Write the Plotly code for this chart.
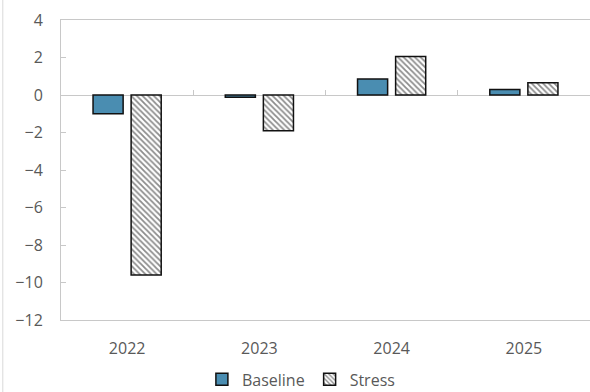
import plotly.graph_objects as go

years = ["2022", "2023", "2024", "2025"]
baseline = [-1.0, -0.12, 0.85, 0.3]
stress = [-9.6, -1.9, 2.05, 0.65]
y_ticks = [-12, -10, -8, -6, -4, -2, 0, 2, 4]

axis_grey = "#c8c8c8"
text_grey = "#595959"
font_family = "Open Sans, Noto Sans, sans-serif"

fig = go.Figure()
fig.add_trace(go.Bar(
    x=years, y=baseline, name="Baseline",
    marker=dict(color="#4a8db1", line=dict(color="#111111", width=1.5)),
))
fig.add_trace(go.Bar(
    x=years, y=stress, name="Stress",
    marker=dict(color="white", line=dict(color="#111111", width=1.5),
                pattern=dict(shape="\\", fgcolor="#1a1a1a", bgcolor="white",
                             size=4, solidity=0.45)),
))
# invisible trace to hold the overlay axis used for the zero-line tick marks
fig.add_trace(go.Scatter(x=[0], y=[0], xaxis="x2", mode="markers",
                         marker=dict(opacity=0), showlegend=False, hoverinfo="skip"))

fig.update_layout(
    width=590, height=392,
    margin=dict(l=61, r=0, t=20, b=72),
    paper_bgcolor="white", plot_bgcolor="white",
    font=dict(family=font_family, size=16, color=text_grey),
    barmode="group", bargap=0.424, bargroupgap=0.21,
    xaxis=dict(
        type="category", showline=True, mirror=True, linecolor=axis_grey, linewidth=1,
        ticks="", showgrid=False, zeroline=False, ticklabelstandoff=14,
        tickfont=dict(size=16, color=text_grey), fixedrange=True,
    ),
    xaxis2=dict(
        overlaying="x", anchor="free", position=0.75, side="top",
        range=[-0.5, 3.5], tickmode="array", tickvals=[0.5, 1.5, 2.5],
        ticks="outside", ticklen=5, tickcolor=axis_grey, tickwidth=1,
        showticklabels=False, showline=False, showgrid=False, zeroline=False,
    ),
    yaxis=dict(
        range=[-12, 4], tickmode="array", tickvals=y_ticks,
        showline=True, linecolor=axis_grey, linewidth=1,
        ticks="inside", ticklen=5, tickcolor=axis_grey,
        showgrid=False, zeroline=True, zerolinecolor=axis_grey, zerolinewidth=1,
        ticklabelstandoff=14, tickfont=dict(size=16, color=text_grey),
    ),
    legend=dict(orientation="h", xref="container", yref="container",
                x=0.51, xanchor="center", y=0.032, yanchor="middle",
                font=dict(size=16, color=text_grey), itemwidth=30),
    shapes=[dict(type="line", xref="paper", yref="paper",
                 x0=-0.11, x1=-0.11, y0=-0.24, y1=1.07,
                 line=dict(color="#d9d9d9", width=1))],
)

fig.write_html("out.html")
